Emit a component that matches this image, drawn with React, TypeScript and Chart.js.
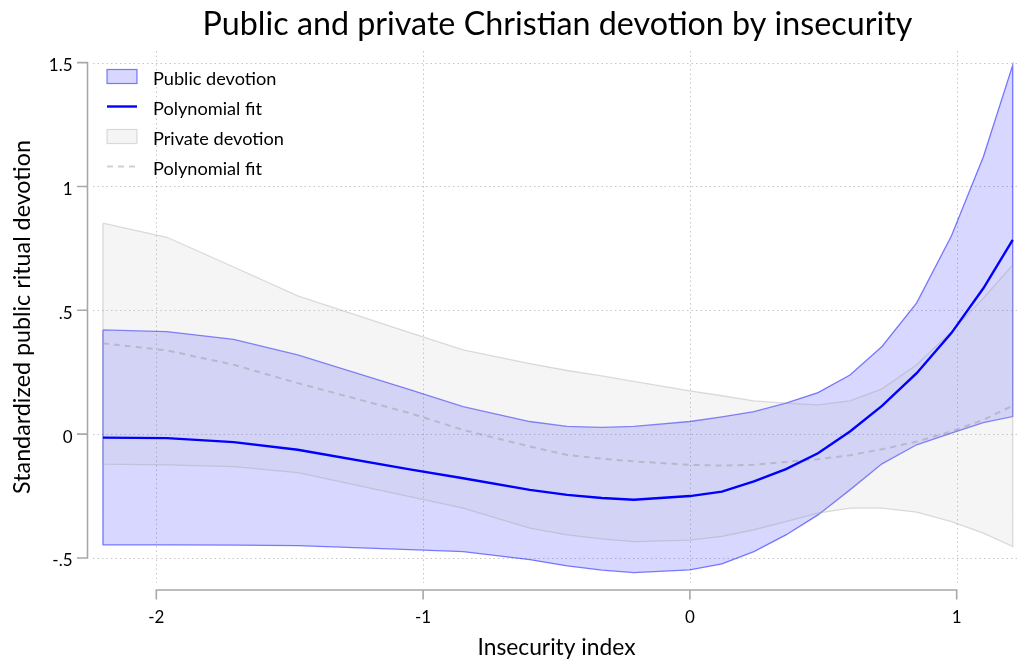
import React, { useEffect, useRef } from "react";
import { Chart, registerables } from "chart.js";

Chart.register(...registerables);

const titleText = "Public and private Christian devotion by insecurity";
const xAxisTitle = "Insecurity index";
const yAxisTitle = "Standardized public ritual devotion";
const xTicks = [-2, -1, 0, 1];
const xTickLabels = ["-2", "-1", "0", "1"];
const yTicks = [-0.5, 0, 0.5, 1, 1.5];
const yTickLabels = ["-.5", "0", ".5", "1", "1.5"];
const legendLabels = ["Public devotion", "Polynomial fit", "Private devotion", "Polynomial fit"];

const insecurity = [-2.2, -1.96, -1.71, -1.47, -1.05, -0.85, -0.6, -0.46, -0.33, -0.21, 0.0, 0.12, 0.24, 0.36, 0.48, 0.6, 0.72, 0.85, 0.98, 1.1, 1.21];
const publicUpper = [0.421, 0.414, 0.383, 0.32, 0.18, 0.111, 0.051, 0.031, 0.027, 0.031, 0.051, 0.07, 0.091, 0.125, 0.168, 0.239, 0.354, 0.53, 0.8, 1.12, 1.49];
const publicLower = [-0.447, -0.447, -0.448, -0.45, -0.466, -0.474, -0.507, -0.532, -0.549, -0.559, -0.548, -0.524, -0.474, -0.407, -0.326, -0.225, -0.12, -0.043, 0.004, 0.047, 0.071];
const publicFit = [-0.014, -0.016, -0.032, -0.063, -0.142, -0.178, -0.225, -0.245, -0.258, -0.265, -0.25, -0.232, -0.191, -0.141, -0.077, 0.011, 0.114, 0.246, 0.408, 0.589, 0.784];
const privateUpper = [0.852, 0.795, 0.675, 0.558, 0.41, 0.34, 0.285, 0.257, 0.235, 0.213, 0.175, 0.155, 0.134, 0.125, 0.118, 0.134, 0.183, 0.28, 0.414, 0.549, 0.683];
const privateLower = [-0.121, -0.124, -0.131, -0.155, -0.252, -0.299, -0.379, -0.407, -0.423, -0.434, -0.428, -0.413, -0.386, -0.353, -0.319, -0.299, -0.299, -0.315, -0.353, -0.4, -0.454];
const privateFit = [0.367, 0.338, 0.28, 0.206, 0.085, 0.017, -0.05, -0.084, -0.099, -0.11, -0.124, -0.127, -0.124, -0.112, -0.101, -0.085, -0.061, -0.03, 0.011, 0.058, 0.115];

const FONT = "Lato, 'Open Sans', sans-serif";
const BLUE_FILL = "rgba(0,0,255,0.155)";
const BLUE_EDGE = "rgba(0,0,255,0.5)";
const GRAY_FILL = "rgba(185,185,185,0.14)";
const GRAY_EDGE = "rgba(150,150,150,0.32)";
const GRAY_DASH = "rgba(150,150,150,0.45)";

function band(upper: number[], lower: number[]) {
  const pts = insecurity.map((x, i) => ({ x, y: upper[i] }));
  for (let i = insecurity.length - 1; i >= 0; i--) pts.push({ x: insecurity[i], y: lower[i] });
  pts.push({ x: insecurity[0], y: upper[0] });
  return pts;
}
function line(vals: number[]) {
  return insecurity.map((x, i) => ({ x, y: vals[i] }));
}

function fitFont(ctx: CanvasRenderingContext2D, text: string, width: number) {
  ctx.font = `100px ${FONT}`;
  const w = ctx.measureText(text).width;
  return (100 * width) / w;
}

const decor = {
  id: "decor",
  beforeDatasetsDraw(chart: any) {
    const { ctx, chartArea: a, scales } = chart;
    const x = scales.x, y = scales.y;
    ctx.save();
    ctx.strokeStyle = "rgba(0,0,0,0.22)";
    ctx.lineWidth = 1;
    ctx.setLineDash([1.5, 3]);
    for (const t of yTicks) {
      const py = Math.round(y.getPixelForValue(t)) + 0.5;
      ctx.beginPath();
      ctx.moveTo(a.left, py);
      ctx.lineTo(a.right, py);
      ctx.stroke();
    }
    for (const t of xTicks) {
      const px = Math.round(x.getPixelForValue(t)) + 0.5;
      ctx.beginPath();
      ctx.moveTo(px, a.top);
      ctx.lineTo(px, a.bottom);
      ctx.stroke();
    }
    ctx.restore();
  },
  afterDraw(chart: any) {
    const { ctx, chartArea: a, scales } = chart;
    const x = scales.x, y = scales.y;
    ctx.save();
    ctx.strokeStyle = "#a8a8a8";
    ctx.lineWidth = 1.6;
    const ax = a.left - 5.5;
    ctx.beginPath();
    ctx.moveTo(ax, y.getPixelForValue(yTicks[yTicks.length - 1]));
    ctx.lineTo(ax, y.getPixelForValue(yTicks[0]));
    for (const t of yTicks) {
      const py = y.getPixelForValue(t);
      ctx.moveTo(ax - 10.5, py);
      ctx.lineTo(ax + 0.8, py);
    }
    ctx.stroke();
    const ay = a.bottom + 7;
    ctx.beginPath();
    ctx.moveTo(x.getPixelForValue(xTicks[0]), ay);
    ctx.lineTo(x.getPixelForValue(xTicks[xTicks.length - 1]), ay);
    for (const t of xTicks) {
      const px = x.getPixelForValue(t);
      ctx.moveTo(px, ay - 0.8);
      ctx.lineTo(px, ay + 9.5);
    }
    ctx.stroke();

    ctx.fillStyle = "#000";
    ctx.font = `17px ${FONT}`;
    ctx.textAlign = "right";
    ctx.textBaseline = "middle";
    yTicks.forEach((t, i) => {
      ctx.fillText(yTickLabels[i], ax - 15, y.getPixelForValue(t) + 3);
    });
    ctx.textAlign = "center";
    xTicks.forEach((t, i) => {
      ctx.fillText(xTickLabels[i], x.getPixelForValue(t), ay + 28);
    });

    const cx = (a.left + a.right) / 2;
    const ts = fitFont(ctx, titleText, 710);
    ctx.font = `${ts}px ${FONT}`;
    ctx.textBaseline = "alphabetic";
    ctx.fillText(titleText, cx + 1, 35);

    const xs = fitFont(ctx, xAxisTitle, 158);
    ctx.font = `${xs}px ${FONT}`;
    ctx.fillText(xAxisTitle, cx, 655);

    const ys = fitFont(ctx, yAxisTitle, 354);
    ctx.font = `${ys}px ${FONT}`;
    ctx.save();
    ctx.translate(22, (a.top + a.bottom) / 2);
    ctx.rotate(-Math.PI / 2);
    ctx.textBaseline = "middle";
    ctx.fillText(yAxisTitle, 0, 0);
    ctx.restore();

    const lx = 107, lw = 30, tx = 153;
    const rows = [76.5, 106.5, 136.5, 166.5];
    ctx.lineWidth = 1.2;
    ctx.fillStyle = BLUE_FILL;
    ctx.fillRect(lx, rows[0] - 7, lw, 14);
    ctx.strokeStyle = BLUE_EDGE;
    ctx.strokeRect(lx, rows[0] - 7, lw, 14);
    ctx.strokeStyle = "#0000ff";
    ctx.lineWidth = 2.4;
    ctx.beginPath();
    ctx.moveTo(lx, rows[1]);
    ctx.lineTo(lx + lw, rows[1]);
    ctx.stroke();
    ctx.lineWidth = 1.2;
    ctx.fillStyle = GRAY_FILL;
    ctx.fillRect(lx, rows[2] - 7, lw, 14);
    ctx.strokeStyle = GRAY_EDGE;
    ctx.strokeRect(lx, rows[2] - 7, lw, 14);
    ctx.strokeStyle = GRAY_DASH;
    ctx.lineWidth = 2;
    ctx.setLineDash([6, 5]);
    ctx.beginPath();
    ctx.moveTo(lx, rows[3]);
    ctx.lineTo(lx + lw, rows[3]);
    ctx.stroke();
    ctx.setLineDash([]);

    const ls = fitFont(ctx, legendLabels[2], 131);
    ctx.font = `${ls}px ${FONT}`;
    ctx.fillStyle = "#000";
    ctx.textAlign = "left";
    ctx.textBaseline = "middle";
    legendLabels.forEach((t, i) => ctx.fillText(t, tx, rows[i] + 2.5));
    ctx.restore();
  },
};

export default function App() {
  const ref = useRef<HTMLCanvasElement | null>(null);
  useEffect(() => {
    if (!ref.current) return;
    const chart = new Chart(ref.current, {
      type: "line",
      data: {
        datasets: [
          {
            label: legendLabels[0],
            data: band(publicUpper, publicLower),
            fill: "shape",
            backgroundColor: BLUE_FILL,
            borderColor: BLUE_EDGE,
            borderWidth: 1.3,
            pointRadius: 0,
            tension: 0,
            order: 4,
          },
          {
            label: legendLabels[1],
            data: line(publicFit),
            fill: false,
            borderColor: "#0000ff",
            borderWidth: 2.4,
            pointRadius: 0,
            tension: 0,
            order: 1,
          },
          {
            label: legendLabels[2],
            data: band(privateUpper, privateLower),
            fill: "shape",
            backgroundColor: GRAY_FILL,
            borderColor: GRAY_EDGE,
            borderWidth: 1.3,
            pointRadius: 0,
            tension: 0,
            order: 3,
          },
          {
            label: legendLabels[3],
            data: line(privateFit),
            fill: false,
            borderColor: GRAY_DASH,
            borderWidth: 2,
            borderDash: [6, 5],
            pointRadius: 0,
            tension: 0,
            order: 2,
          },
        ],
      } as any,
      options: {
        animation: false,
        responsive: false,
        devicePixelRatio: 1,
        layout: { padding: { left: 93, right: 0, top: 51, bottom: 81 } },
        scales: {
          x: { type: "linear", display: false, min: -2.2373, max: 1.2373 },
          y: { type: "linear", display: false, min: -0.601, max: 1.547 },
        },
        plugins: {
          legend: { display: false },
          tooltip: { enabled: false },
          title: { display: false },
        },
        events: [],
      } as any,
      plugins: [decor],
    });
    return () => chart.destroy();
  }, []);
  return (
    <div style={{ position: "fixed", left: 0, top: 0, width: 1020, height: 664, background: "#fff" }}>
      <canvas ref={ref} width={1020} height={664} style={{ display: "block" }} />
    </div>
  );
}
